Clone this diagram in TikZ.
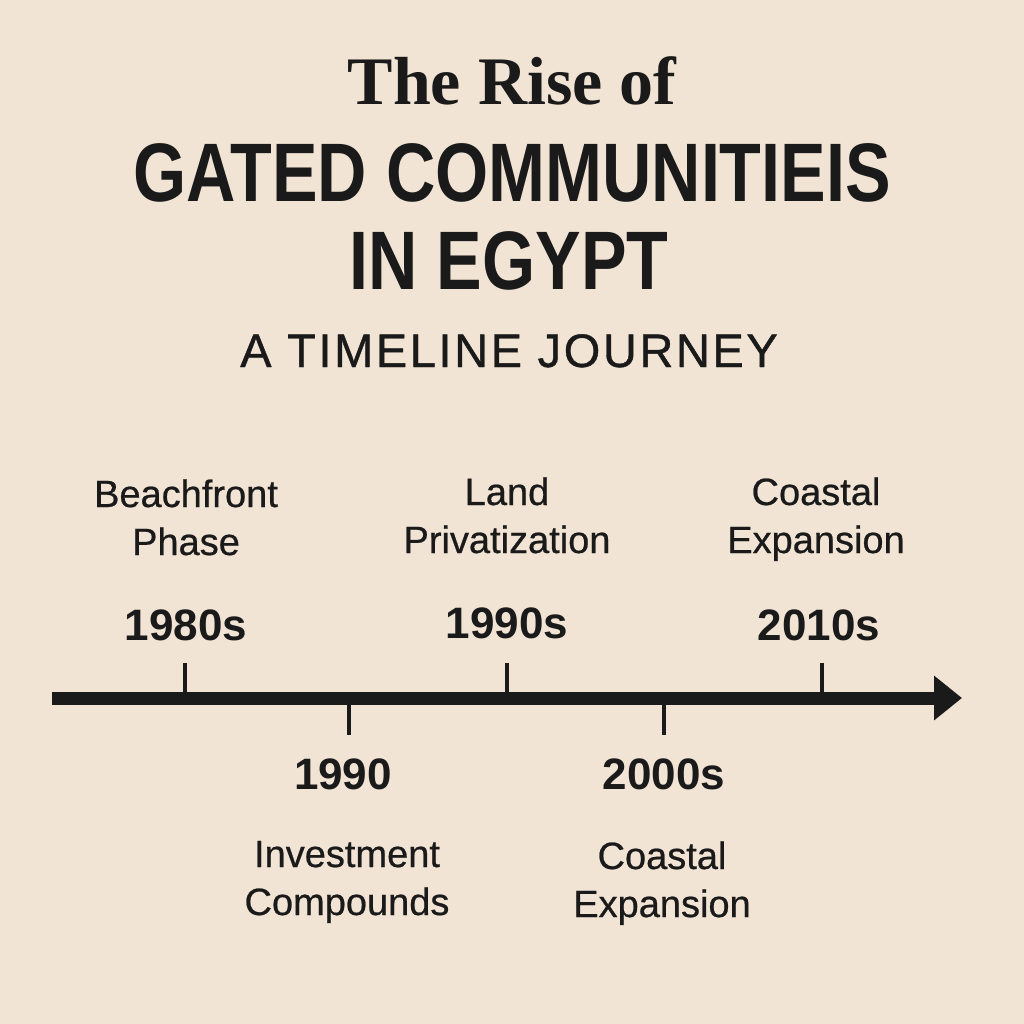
\documentclass[tikz,border=0pt]{standalone}
\usepackage{fontspec}
\usepackage{graphicx}
\setmainfont{Liberation Sans}
\newfontfamily\titleserif{Liberation Serif}
\newfontfamily\subfont[LetterSpace=5.5,FakeBold=0.8]{Liberation Sans}
\newfontfamily\labfont[FakeBold=0.6]{Liberation Sans}
\usetikzlibrary{arrows.meta}
\definecolor{bg}{RGB}{241,228,212}
\definecolor{ink}{RGB}{26,26,26}
\begin{document}
\begin{tikzpicture}[x=1pt,y=-1pt,
  txt/.style={inner sep=0pt, outer sep=0pt, text=ink, anchor=base, align=center},
  lab/.style={txt, font=\fontsize{38}{48}\selectfont\labfont},
  yr/.style={txt, font=\fontsize{44}{48}\selectfont\bfseries},
  tickline/.style={draw=ink, line width=3.5pt},
  axisline/.style={draw=ink, line width=13pt, -{Triangle[length=28pt,width=43pt]}}]
\fill[bg] (0,0) rectangle (1024,1024);
\useasboundingbox (0,0) rectangle (1024,1024);
% titles
\node[txt, font=\fontsize{68}{70}\selectfont\titleserif\bfseries] (t1) at (512,105) {The Rise of};
\node[txt, font=\fontsize{83}{90}\selectfont\bfseries] (t2) at (512,202) {\scalebox{0.823}[1]{GATED COMMUNITIEIS}};
\node[txt, font=\fontsize{83}{90}\selectfont\bfseries] (t3) at (509,289) {\scalebox{0.823}[1]{IN EGYPT}};
\node[txt, font=\fontsize{47}{50}\selectfont\subfont] (t4) at (509,367) {A TIMELINE JOURNEY};
% axis
\coordinate (axs) at (52,698);
\coordinate (axe) at (962,698);
\draw[axisline] (axs) -- (axe);
% tick coordinates
\coordinate (a1) at (185,698); \coordinate (k1) at (185,663);
\coordinate (a2) at (349,698); \coordinate (k2) at (349,735);
\coordinate (a3) at (507,698); \coordinate (k3) at (507,663);
\coordinate (a4) at (664,698); \coordinate (k4) at (664,735);
\coordinate (a5) at (822,698); \coordinate (k5) at (822,663);
\draw[tickline] (a1) -- (k1);
\draw[tickline] (a2) -- (k2);
\draw[tickline] (a3) -- (k3);
\draw[tickline] (a4) -- (k4);
\draw[tickline] (a5) -- (k5);
% upper labels (anchor = baseline of last line)
\node[lab] (l1) at (186,555) {Beachfront\\Phase};
\node[yr] (y1) at (186,640) {1980s};
\node[lab] (l3) at (507,553) {Land\\Privatization};
\node[yr] (y3) at (507,638) {1990s};
\node[lab] (l5) at (816,553) {Coastal\\Expansion};
\node[yr] (y5) at (819,640) {2010s};
% lower labels
\node[yr] (y2) at (343,789) {1990};
\node[lab] (l2) at (347,915) {Investment\\Compounds};
\node[yr] (y4) at (664,789) {2000s};
\node[lab] (l4) at (662,917) {Coastal\\Expansion};
\end{tikzpicture}
\end{document}
